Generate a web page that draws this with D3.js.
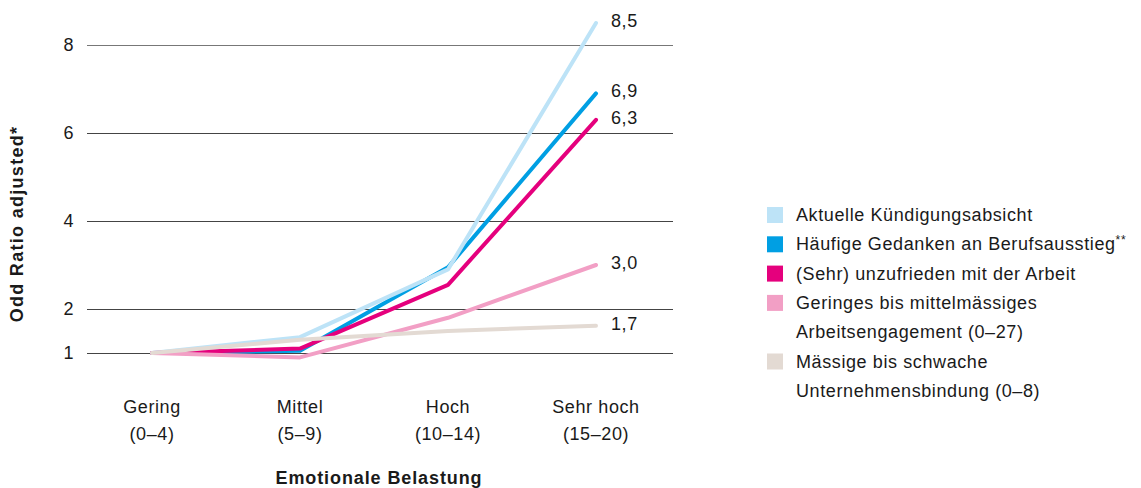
<!DOCTYPE html>
<html>
<head>
<meta charset="utf-8">
<script src="https://cdn.jsdelivr.net/npm/d3@7"></script>
<style>
  body { margin: 0; background: #fff; }
  svg text { font-family: 'Liberation Sans', Arial, sans-serif; fill: #1a1a1a; letter-spacing: 0.6px; }
</style>
</head>
<body>
<script>
// categories (x axis), two lines each
var categories = ['Gering', 'Mittel', 'Hoch', 'Sehr hoch']
var categoryRanges = ['(0–4)', '(5–9)', '(10–14)', '(15–20)']

// y ticks
var yTicks = [1, 2, 4, 6, 8]

// series values (odds ratios)
var kuendigung = [1, 1.36, 2.9, 8.5]
var gedanken = [1, 1.05, 2.95, 6.9]
var unzufrieden = [1, 1.1, 2.55, 6.3]
var engagement = [1, 0.9, 1.8, 3.0]
var bindung = [1, 1.3, 1.5, 1.62]

var endLabels = ['8,5', '6,9', '6,3', '3,0', '1,7']

var seriesNames = [
    ['Aktuelle Kündigungsabsicht'],
    ['Häufige Gedanken an Berufsausstieg'],
    ['(Sehr) unzufrieden mit der Arbeit'],
    ['Geringes bis mittelmässiges', 'Arbeitsengagement (0–27)'],
    ['Mässige bis schwache', 'Unternehmensbindung (0–8)']
]
var colors = ['#bde3f7', '#009fe3', '#e5007d', '#f29fc5', '#e3dad3']

var width = 1141
var height = 488
var fontSize = '18px'

var series = [kuendigung, gedanken, unzufrieden, engagement, bindung].map(function(values, i) {
    return { values: values, name: seriesNames[i], color: colors[i], label: endLabels[i] }
})

var svg = d3.select('body').append('svg')
    .attr('width', width)
    .attr('height', height)

var x = d3.scalePoint().domain(categories).range([152, 596])
var y = d3.scaleLinear().domain([1, 8]).range([353, 45])

// grid lines
svg.append('g').selectAll('line')
    .data(yTicks)
    .enter().append('line')
        .attr('x1', 87)
        .attr('x2', 673)
        .attr('y1', d => y(d) + 0.5)
        .attr('y2', d => y(d) + 0.5)
        .attr('stroke', d => d == 8 ? '#777' : '#444')
        .attr('stroke-width', 1)

var yAxis = d3.axisLeft(y).tickValues(yTicks).tickFormat(d3.format('d')).tickSize(0).tickPadding(0)
var gy = svg.append('g').attr('transform', 'translate(74,0)').call(yAxis)
gy.select('.domain').remove()
gy.selectAll('text').style('font-size', fontSize).attr('fill', '#1a1a1a').attr('font-family', null)

// x axis labels
var gx = svg.append('g')
categories.forEach(function(c, i) {
    var t = gx.append('text')
        .attr('x', x(c))
        .attr('y', 413)
        .attr('text-anchor', 'middle')
        .style('font-size', fontSize)
    t.append('tspan').attr('x', x(c)).text(c)
    t.append('tspan').attr('x', x(c)).attr('dy', 27).text(categoryRanges[i])
})

// lines
var line = d3.line()
    .x((d, i) => x(categories[i]))
    .y(d => y(d))

var order = [1, 0, 2, 3, 4]
order.forEach(function(k) {
    var s = series[k]
    svg.append('path')
        .datum(s.values)
        .attr('d', line)
        .attr('fill', 'none')
        .attr('stroke', s.color)
        .attr('stroke-width', 4)
        .attr('stroke-linecap', 'round')
        .attr('stroke-linejoin', 'round')
})

// end labels
series.forEach(function(s) {
    var last = s.values[s.values.length - 1]
    svg.append('text')
        .attr('x', 611)
        .attr('y', y(last) + 4)
        .style('font-size', fontSize)
        .text(s.label)
})

// axis titles
svg.append('text')
    .attr('transform', 'translate(23,224) rotate(-90)')
    .attr('text-anchor', 'middle')
    .style('font-size', fontSize)
    .style('font-weight', 'bold')
    .style('letter-spacing', '1.3px')
    .text('Odd Ratio adjusted*')

svg.append('text')
    .attr('x', 379)
    .attr('y', 484)
    .attr('text-anchor', 'middle')
    .style('font-size', fontSize)
    .style('font-weight', 'bold')
    .style('letter-spacing', '0.9px')
    .text('Emotionale Belastung')

// legend
var legend = svg.append('g')
var rowY = 215
series.forEach(function(s) {
    legend.append('rect')
        .attr('x', 767)
        .attr('y', rowY - 8)
        .attr('width', 16)
        .attr('height', 16)
        .attr('fill', s.color)
    s.name.forEach(function(n, j) {
        var t = legend.append('text')
            .attr('x', 796)
            .attr('y', rowY + 6)
            .style('font-size', fontSize)
            .text(n)
        if (s.name[0].indexOf('Berufsausstieg') >= 0) {
            t.append('tspan').attr('dy', -6).style('font-size', '12px').text('**')
        }
        rowY += 29.3
    })
})
</script>
</body>
</html>
